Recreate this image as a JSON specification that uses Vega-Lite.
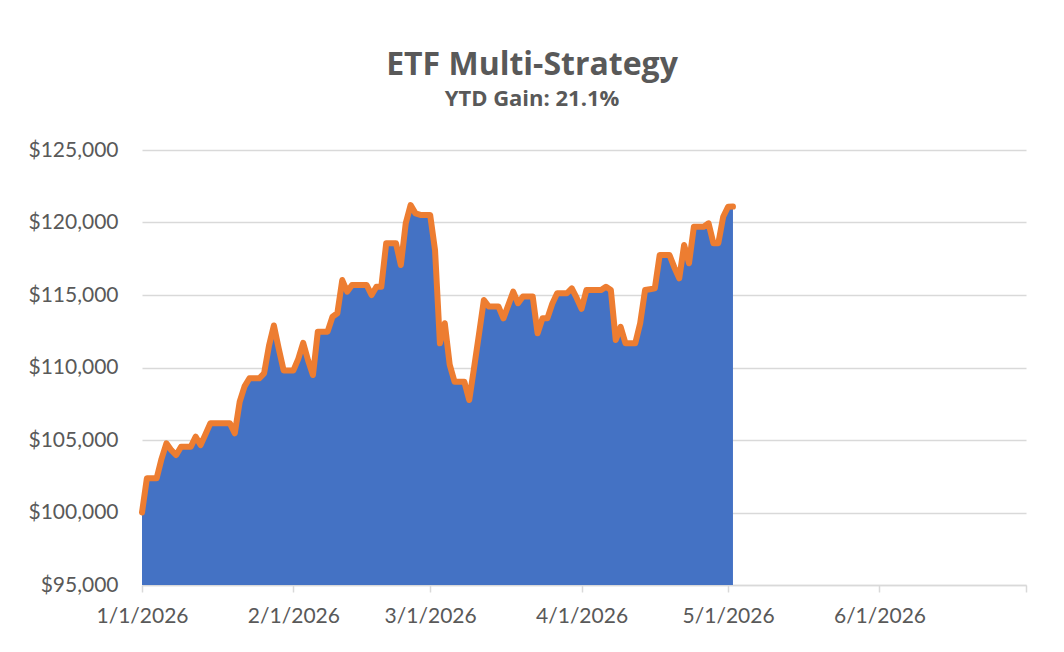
{
  "$schema": "https://vega.github.io/schema/vega-lite/v6.json",
  "width": 884,
  "height": 435,
  "autosize": {"type": "none"},
  "padding": {"left": 142, "top": 150, "right": 38, "bottom": 67},
  "background": "white",
  "title": {
    "text": "ETF Multi-Strategy",
    "subtitle": "YTD Gain: 21.1%",
    "anchor": "middle",
    "dx": -52,
    "offset": 28,
    "font": "Open Sans",
    "fontSize": 32,
    "fontWeight": "bold",
    "color": "#595959",
    "subtitleFont": "Open Sans",
    "subtitleFontSize": 22,
    "subtitleFontWeight": "bold",
    "subtitleColor": "#595959",
    "subtitlePadding": 7
  },
  "data": {
    "values": [
      {"date": "2026-01-01", "value": 100000},
      {"date": "2026-01-02", "value": 102360},
      {"date": "2026-01-03", "value": 102360},
      {"date": "2026-01-04", "value": 102360},
      {"date": "2026-01-05", "value": 103700},
      {"date": "2026-01-06", "value": 104770},
      {"date": "2026-01-07", "value": 104300},
      {"date": "2026-01-08", "value": 103965},
      {"date": "2026-01-09", "value": 104540},
      {"date": "2026-01-10", "value": 104540},
      {"date": "2026-01-11", "value": 104540},
      {"date": "2026-01-12", "value": 105230},
      {"date": "2026-01-13", "value": 104650},
      {"date": "2026-01-14", "value": 105400},
      {"date": "2026-01-15", "value": 106150},
      {"date": "2026-01-16", "value": 106150},
      {"date": "2026-01-17", "value": 106150},
      {"date": "2026-01-18", "value": 106150},
      {"date": "2026-01-19", "value": 106150},
      {"date": "2026-01-20", "value": 105460},
      {"date": "2026-01-21", "value": 107640},
      {"date": "2026-01-22", "value": 108700},
      {"date": "2026-01-23", "value": 109255},
      {"date": "2026-01-24", "value": 109255},
      {"date": "2026-01-25", "value": 109255},
      {"date": "2026-01-26", "value": 109600},
      {"date": "2026-01-27", "value": 111500},
      {"date": "2026-01-28", "value": 112900},
      {"date": "2026-01-29", "value": 111300},
      {"date": "2026-01-30", "value": 109800},
      {"date": "2026-01-31", "value": 109800},
      {"date": "2026-02-01", "value": 109800},
      {"date": "2026-02-02", "value": 110600},
      {"date": "2026-02-03", "value": 111700},
      {"date": "2026-02-04", "value": 110500},
      {"date": "2026-02-05", "value": 109480},
      {"date": "2026-02-06", "value": 112470},
      {"date": "2026-02-07", "value": 112470},
      {"date": "2026-02-08", "value": 112470},
      {"date": "2026-02-09", "value": 113500},
      {"date": "2026-02-10", "value": 113740},
      {"date": "2026-02-11", "value": 116030},
      {"date": "2026-02-12", "value": 115230},
      {"date": "2026-02-13", "value": 115690},
      {"date": "2026-02-14", "value": 115690},
      {"date": "2026-02-15", "value": 115690},
      {"date": "2026-02-16", "value": 115690},
      {"date": "2026-02-17", "value": 115000},
      {"date": "2026-02-18", "value": 115570},
      {"date": "2026-02-19", "value": 115570},
      {"date": "2026-02-20", "value": 118570},
      {"date": "2026-02-21", "value": 118570},
      {"date": "2026-02-22", "value": 118570},
      {"date": "2026-02-23", "value": 117070},
      {"date": "2026-02-24", "value": 119945},
      {"date": "2026-02-25", "value": 121200},
      {"date": "2026-02-26", "value": 120630},
      {"date": "2026-02-27", "value": 120520},
      {"date": "2026-02-28", "value": 120520},
      {"date": "2026-03-01", "value": 120520},
      {"date": "2026-03-02", "value": 118100},
      {"date": "2026-03-03", "value": 111670},
      {"date": "2026-03-04", "value": 113050},
      {"date": "2026-03-05", "value": 110200},
      {"date": "2026-03-06", "value": 109020},
      {"date": "2026-03-07", "value": 109020},
      {"date": "2026-03-08", "value": 109020},
      {"date": "2026-03-09", "value": 107760},
      {"date": "2026-03-10", "value": 110000},
      {"date": "2026-03-11", "value": 112300},
      {"date": "2026-03-12", "value": 114660},
      {"date": "2026-03-13", "value": 114200},
      {"date": "2026-03-14", "value": 114200},
      {"date": "2026-03-15", "value": 114200},
      {"date": "2026-03-16", "value": 113390},
      {"date": "2026-03-17", "value": 114300},
      {"date": "2026-03-18", "value": 115230},
      {"date": "2026-03-19", "value": 114430},
      {"date": "2026-03-20", "value": 114890},
      {"date": "2026-03-21", "value": 114890},
      {"date": "2026-03-22", "value": 114890},
      {"date": "2026-03-23", "value": 112360},
      {"date": "2026-03-24", "value": 113390},
      {"date": "2026-03-25", "value": 113390},
      {"date": "2026-03-26", "value": 114400},
      {"date": "2026-03-27", "value": 115120},
      {"date": "2026-03-28", "value": 115120},
      {"date": "2026-03-29", "value": 115120},
      {"date": "2026-03-30", "value": 115460},
      {"date": "2026-03-31", "value": 114800},
      {"date": "2026-04-01", "value": 114050},
      {"date": "2026-04-02", "value": 115340},
      {"date": "2026-04-03", "value": 115340},
      {"date": "2026-04-04", "value": 115340},
      {"date": "2026-04-05", "value": 115340},
      {"date": "2026-04-06", "value": 115570},
      {"date": "2026-04-07", "value": 115340},
      {"date": "2026-04-08", "value": 111900},
      {"date": "2026-04-09", "value": 112810},
      {"date": "2026-04-10", "value": 111670},
      {"date": "2026-04-11", "value": 111670},
      {"date": "2026-04-12", "value": 111670},
      {"date": "2026-04-13", "value": 113050},
      {"date": "2026-04-14", "value": 115340},
      {"date": "2026-04-15", "value": 115400},
      {"date": "2026-04-16", "value": 115460},
      {"date": "2026-04-17", "value": 117760},
      {"date": "2026-04-18", "value": 117760},
      {"date": "2026-04-19", "value": 117760},
      {"date": "2026-04-20", "value": 116900},
      {"date": "2026-04-21", "value": 116150},
      {"date": "2026-04-22", "value": 118450},
      {"date": "2026-04-23", "value": 117190},
      {"date": "2026-04-24", "value": 119710},
      {"date": "2026-04-25", "value": 119710},
      {"date": "2026-04-26", "value": 119710},
      {"date": "2026-04-27", "value": 119945},
      {"date": "2026-04-28", "value": 118570},
      {"date": "2026-04-29", "value": 118570},
      {"date": "2026-04-30", "value": 120400},
      {"date": "2026-05-01", "value": 121090},
      {"date": "2026-05-02", "value": 121100}
    ]
  },
  "encoding": {
    "x": {
      "field": "date",
      "type": "temporal",
      "scale": {
        "type": "utc",
        "domain": [
          {"year": 2026, "month": 1, "date": 1, "utc": true},
          {"year": 2026, "month": 7, "date": 1, "utc": true}
        ]
      },
      "axis": {
        "title": null,
        "grid": false,
        "values": [
          {"year": 2026, "month": 1, "date": 1, "utc": true},
          {"year": 2026, "month": 2, "date": 1, "utc": true},
          {"year": 2026, "month": 3, "date": 1, "utc": true},
          {"year": 2026, "month": 4, "date": 1, "utc": true},
          {"year": 2026, "month": 5, "date": 1, "utc": true},
          {"year": 2026, "month": 6, "date": 1, "utc": true},
          {"year": 2026, "month": 7, "date": 1, "utc": true}
        ],
        "format": "%-m/%-d/%Y",
        "labelExpr": "utcmonth(datum.value) == 6 ? '' : datum.label",
        "labelFont": "Lato",
        "labelFontSize": 21,
        "labelColor": "#595959",
        "labelPadding": 13,
        "labelFlush": false,
        "labelOverlap": false,
        "domainColor": "#D9D9D9",
        "domainWidth": 1.5,
        "tickColor": "#D9D9D9",
        "tickWidth": 1.5,
        "tickSize": 7
      }
    },
    "y": {
      "field": "value",
      "type": "quantitative",
      "scale": {"domain": [95000, 125000], "zero": false, "nice": false},
      "axis": {
        "title": null,
        "values": [95000, 100000, 105000, 110000, 115000, 120000, 125000],
        "format": "$,.0f",
        "labelFont": "Lato",
        "labelFontSize": 21,
        "labelColor": "#595959",
        "labelPadding": 24,
        "domain": false,
        "ticks": false,
        "gridColor": "#D9D9D9",
        "gridWidth": 1.5
      }
    }
  },
  "layer": [
    {
      "mark": {"type": "area", "color": "#4472C4", "opacity": 1},
      "encoding": {"y2": {"datum": 95000}}
    },
    {
      "mark": {"type": "line", "color": "#ED7D31", "strokeWidth": 6, "strokeJoin": "round", "strokeCap": "round"}
    }
  ],
  "config": {
    "view": {"stroke": null}
  }
}
